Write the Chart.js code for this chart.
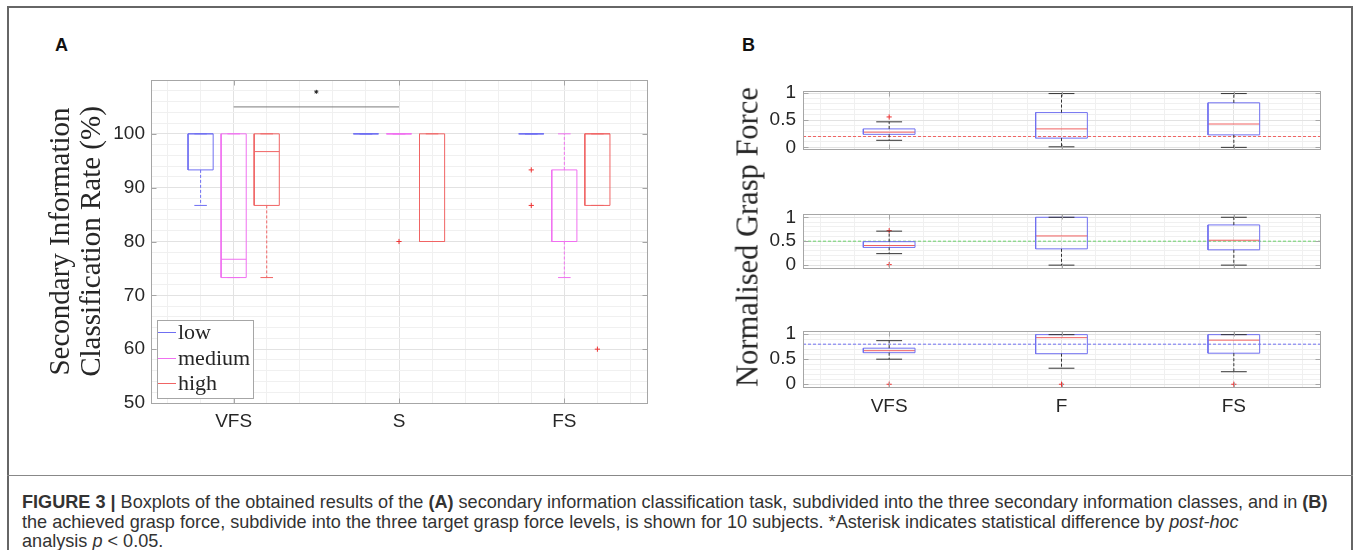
<!DOCTYPE html>
<html>
<head>
<meta charset="utf-8">
<script src="https://cdn.jsdelivr.net/npm/chart.js@4.4.0/dist/chart.umd.min.js"></script>
<style>
  body { margin: 0; background: #fff; width: 1360px; height: 550px; overflow: hidden; position: relative;
         font-family: "Liberation Sans", Arial, sans-serif; }
  canvas { position: absolute; }
  .frame { position: absolute; left: 7px; top: 6px; width: 1346px; height: 620px; border: 2px solid #666; box-sizing: border-box; }
  .divider { position: absolute; left: 7px; top: 475px; width: 1346px; height: 0; border-top: 1px solid #888; }
  .panel { position: absolute; font-weight: bold; font-size: 18px; color: #111; }
  .ylabB { position: absolute; left: 748px; top: 237px; transform: translate(-50%, -50%) rotate(-90deg);
           font-family: "Liberation Serif", serif; font-size: 30.5px; color: #262626; white-space: nowrap; }
  .legend { position: absolute; left: 157px; top: 320px; width: 97px; height: 79px; border: 1px solid #a6a6a6;
            background: #fff; box-sizing: border-box; }
  .legend div { position: absolute; left: 20px; font-family: "Liberation Serif", serif; font-size: 22px; color: #262626;
                line-height: 22px; }
  .legend span { position: absolute; left: -20px; top: 11px; width: 18px; height: 1px; }
  .cap { position: absolute; left: 22px; top: 493px; font-size: 18.1px; line-height: 19.5px; color: #333; white-space: nowrap; }
</style>
</head>
<body>
<div class="frame"></div>
<div class="divider"></div>
<div class="panel" style="left:55px;top:35px">A</div>
<div class="panel" style="left:742px;top:35px">B</div>

<canvas id="chartA" width="700" height="470" style="left:0;top:0"></canvas>
<canvas id="chartB1" width="620" height="96" style="left:720px;top:73px"></canvas>
<canvas id="chartB2" width="620" height="92" style="left:720px;top:196px"></canvas>
<canvas id="chartB3" width="620" height="140" style="left:720px;top:313px"></canvas>
<div class="ylabB">Normalised Grasp Force</div>
<div class="legend" id="legendA"></div>

<div class="cap"><b>FIGURE 3 |</b> Boxplots of the obtained results of the <b>(A)</b> secondary information classification task, subdivided into the three secondary information classes, and in <b>(B)</b><br>
the achieved grasp force, subdivide into the three target grasp force levels, is shown for 10 subjects. *Asterisk indicates statistical difference by <i>post-hoc</i><br>
analysis <i>p</i> &lt; 0.05.</div>

<script>
// ====== DATA ======
// box summaries per class: [lower whisker, Q1, median, Q3, upper whisker]
const classesA = ['VFS', 'S', 'FS'];
const levelsA = ['low', 'medium', 'high'];
const lowBoxes    = [[86.7, 93.3, 100, 100, 100], [100, 100, 100, 100, 100], [100, 100, 100, 100, 100]];
const mediumBoxes = [[73.3, 73.3, 76.7, 100, 100], [100, 100, 100, 100, 100], [73.3, 80, 80, 93.3, 100]];
const highBoxes   = [[73.3, 86.7, 96.7, 100, 100], [80, 80, 80, 100, 100], [86.7, 86.7, 100, 100, 100]];
const lowOutliers    = [[], [], [93.3, 86.7]];
const mediumOutliers = [[], [80], []];
const highOutliers   = [[], [], [60]];
const sigPair = [1, 2];      // VFS vs S
const sigBarLevel = 105;
const sigStarLevel = 107.8;

const classesB = ['VFS', 'F', 'FS'];
const targetForce = [0.2, 0.5, 0.8];
const forceLowBoxes  = [[0.13, 0.24, 0.28, 0.34, 0.47], [0.01, 0.17, 0.34, 0.64, 0.99], [0.0, 0.23, 0.43, 0.82, 0.99]];
const forceMidBoxes  = [[0.24, 0.37, 0.41, 0.49, 0.71], [0.0, 0.34, 0.61, 1.0, 1.0], [0.0, 0.32, 0.52, 0.84, 1.0]];
const forceHighBoxes = [[0.5, 0.63, 0.67, 0.72, 0.87], [0.32, 0.61, 0.93, 0.99, 0.99], [0.25, 0.62, 0.88, 0.99, 0.99]];
const forceLowOutliers  = [[0.56], [], []];
const forceMidOutliers  = [[0.72, 0.01], [], []];
const forceHighOutliers = [[0], [0], [0]];

// ====== STYLE ======
const levelColors = ['#6f6ff2', '#f070f0', '#f06464'];
const targetColors = ['#f06464', '#6cd46c', '#6f6ff2'];
const outlierColor = '#ee3333';
const tickFont = { family: '"Liberation Sans", Arial, sans-serif', size: 19 };
const gridMajor = '#e2e2e2';
const gridMinor = '#f0f0f0';

// legend (panel A)
const legendBox = document.getElementById('legendA');
levelsA.forEach((name, i) => {
  const row = document.createElement('div');
  row.style.top = (i * 25.7) + 'px';
  const mark = document.createElement('span');
  mark.style.background = levelColors[i];
  row.appendChild(mark);
  row.appendChild(document.createTextNode(name));
  legendBox.appendChild(row);
});

// grid tick values every `step` between min and max
function gridTicks(min, max, step) {
  const out = [{ value: min }];
  for (let k = Math.ceil(min / step + 1e-9); k * step < max - 1e-9; k++) {
    out.push({ value: Math.round(k * step * 1e6) / 1e6 });
  }
  out.push({ value: max });
  return out;
}

// full axes box with inward tick marks, like MATLAB's "box on"
const axisBox = {
  id: 'axisBox',
  afterDraw(chart) {
    const { ctx, chartArea: a, scales } = chart;
    const L = Math.round(a.left) + 0.5, R = Math.round(a.right) + 0.5;
    const T = Math.round(a.top) + 0.5, B = Math.round(a.bottom) + 0.5;
    ctx.save();
    ctx.strokeStyle = '#a6a6a6';
    ctx.lineWidth = 1;
    ctx.strokeRect(L, T, R - L, B - T);
    ctx.beginPath();
    scales.x.ticks.forEach(t => {
      if (t.label === '' || t.label == null) return;
      const px = Math.round(scales.x.getPixelForValue(t.value)) + 0.5;
      ctx.moveTo(px, B); ctx.lineTo(px, B - 5);
      ctx.moveTo(px, T); ctx.lineTo(px, T + 5);
    });
    scales.y.ticks.forEach(t => {
      if (t.label === '' || t.label == null) return;
      const py = Math.round(scales.y.getPixelForValue(t.value)) + 0.5;
      ctx.moveTo(L, py); ctx.lineTo(L + 5, py);
      ctx.moveTo(R, py); ctx.lineTo(R - 5, py);
    });
    ctx.stroke();
    ctx.restore();
  }
};

// datasets of one boxplot group
function boxplotSets(boxes, outliers, pos, half, c) {
  const rect = [], med = [], whisk = [], caps = [], outs = [];
  boxes.forEach((b, i) => {
    const [lo, q1, m, q3, hi] = b;
    const x = pos[i], a = x - half, z = x + half, ca = x - half / 2, cz = x + half / 2;
    rect.push({x: a, y: q1}, {x: z, y: q1}, {x: z, y: q3}, {x: a, y: q3}, {x: a, y: q1}, {x: a, y: null});
    med.push({x: a, y: m}, {x: z, y: m}, {x: z, y: null});
    whisk.push({x: x, y: q3}, {x: x, y: hi}, {x: x, y: null}, {x: x, y: q1}, {x: x, y: lo}, {x: x, y: null});
    caps.push({x: ca, y: hi}, {x: cz, y: hi}, {x: cz, y: null}, {x: ca, y: lo}, {x: cz, y: lo}, {x: cz, y: null});
    outliers[i].forEach(v => outs.push({x: x, y: v}));
  });
  const line = (data, color, dash) => ({
    type: 'line', data, borderColor: color, borderWidth: 1, borderDash: dash || [],
    pointRadius: 0, spanGaps: false, fill: false, tension: 0
  });
  return [
    line(whisk, c.whisker, [3, 2]),
    line(caps, c.cap),
    line(rect, c.box),
    line(med, c.median),
    { type: 'scatter', data: outs, pointStyle: 'cross', pointRadius: 2.6, borderColor: outlierColor,
      borderWidth: 1, backgroundColor: outlierColor }
  ];
}

// ====== PANEL A ======
const offsetsA = [-0.2, 0, 0.2];
const levelBoxes = [lowBoxes, mediumBoxes, highBoxes];
const levelOutliers = [lowOutliers, mediumOutliers, highOutliers];
let datasetsA = [];
levelBoxes.forEach((boxes, li) => {
  const pos = classesA.map((_, i) => i + 1 + offsetsA[li]);
  const col = levelColors[li];
  datasetsA = datasetsA.concat(boxplotSets(boxes, levelOutliers[li], pos, 0.076,
    { box: col, median: col, whisker: col, cap: col }));
});
datasetsA.push({
  type: 'line', data: [{x: sigPair[0], y: sigBarLevel}, {x: sigPair[1], y: sigBarLevel}],
  borderColor: '#7a7a7a', borderWidth: 1, pointRadius: 0
});
datasetsA.push({
  type: 'scatter', data: [{x: (sigPair[0] + sigPair[1]) / 2, y: sigStarLevel}],
  pointStyle: 'star', pointRadius: 2, borderColor: '#222', borderWidth: 1
});

const isWhole = v => Math.abs(v - Math.round(v)) < 1e-6;

new Chart(document.getElementById('chartA'), {
  type: 'line',
  data: { datasets: datasetsA },
  options: {
    responsive: false,
    animation: false,
    layout: { padding: { left: 0, top: 80, right: 53, bottom: 0 } },
    plugins: { legend: { display: false }, tooltip: { enabled: false } },
    scales: {
      x: {
        type: 'linear', min: 0.5, max: 3.5,
        afterBuildTicks: s => { s.ticks = gridTicks(0.5, 3.5, 0.2); },
        afterFit: s => { s.height = 67; },
        grid: { drawTicks: false, color: c => (c.tick && isWhole(c.tick.value)) ? gridMajor : gridMinor },
        border: { display: true, color: '#a6a6a6' },
        ticks: {
          autoSkip: false, maxRotation: 0, padding: 7, font: tickFont, color: '#262626',
          callback: v => isWhole(v) && v >= 1 && v <= 3 ? classesA[Math.round(v) - 1] : ''
        }
      },
      y: {
        type: 'linear', min: 50, max: 110,
        afterBuildTicks: s => { s.ticks = gridTicks(50, 110, 2); },
        afterFit: s => { s.width = 151; },
        grid: { drawTicks: false, color: c => (c.tick && c.tick.value % 10 === 0) ? gridMajor : gridMinor },
        border: { display: true, color: '#a6a6a6' },
        ticks: {
          autoSkip: false, padding: 6, font: tickFont, color: '#262626',
          callback: v => (v % 10 === 0 && v <= 100) ? String(v) : ''
        },
        title: {
          display: true,
          text: ['Secondary Information', 'Classification Rate (%)'],
          font: { family: '"Liberation Serif", serif', size: 29, lineHeight: 1.06 },
          color: '#262626',
          padding: { top: 46, bottom: 0 }
        }
      }
    }
  },
  plugins: [axisBox]
});

// ====== PANEL B ======
const posB = classesB.map((_, i) => i + 1);
function forceChart(id, boxes, outliers, k, ymin, ymax, axisH, showLabels) {
  const ds = boxplotSets(boxes, outliers, posB, 0.15,
    { box: '#7070f0', median: '#f06060', whisker: '#333', cap: '#333' });
  ds.push({
    type: 'line', data: [{x: 0.5, y: targetForce[k]}, {x: 3.5, y: targetForce[k]}],
    borderColor: targetColors[k], borderWidth: 1, borderDash: [3, 2], pointRadius: 0
  });
  return new Chart(document.getElementById(id), {
    type: 'line',
    data: { datasets: ds },
    options: {
      responsive: false,
      animation: false,
      layout: { padding: { left: 0, top: 10, right: 20, bottom: 0 } },
      plugins: { legend: { display: false }, tooltip: { enabled: false } },
      scales: {
        x: {
          type: 'linear', min: 0.5, max: 3.5,
          afterBuildTicks: s => { s.ticks = gridTicks(0.5, 3.5, 0.2); },
          afterFit: s => { s.height = axisH; },
          grid: { drawTicks: false, color: c => (c.tick && isWhole(c.tick.value)) ? gridMajor : gridMinor },
          border: { display: true, color: '#a6a6a6' },
          ticks: {
            display: showLabels, autoSkip: false, maxRotation: 0, padding: 8, font: tickFont, color: '#262626',
            callback: v => isWhole(v) && v >= 1 && v <= 3 ? classesB[Math.round(v) - 1] : ''
          }
        },
        y: {
          type: 'linear', min: ymin, max: ymax,
          afterBuildTicks: s => { s.ticks = gridTicks(ymin, ymax, 0.1); },
          afterFit: s => { s.width = 83; },
          grid: { drawTicks: false, color: c => (c.tick && isWhole(c.tick.value * 2)) ? gridMajor : gridMinor },
          border: { display: true, color: '#a6a6a6' },
          ticks: {
            autoSkip: false, padding: 7, font: tickFont, color: '#262626',
            callback: v => (isWhole(v * 2) && v >= 0 && v <= 1) ? String(v) : ''
          }
        }
      }
    },
    plugins: [axisBox]
  });
}

forceChart('chartB1', forceLowBoxes, forceLowOutliers, 0, -0.03, 1.03, 20, false);
forceChart('chartB2', forceMidBoxes, forceMidOutliers, 1, -0.06, 1.06, 20, false);
forceChart('chartB3', forceHighBoxes, forceHighOutliers, 2, -0.055, 1.055, 66, true);
</script>
</body>
</html>
